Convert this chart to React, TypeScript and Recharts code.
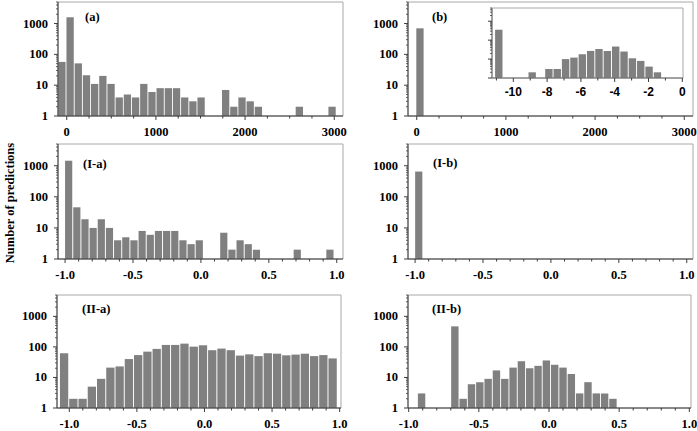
import React from "react";
import { BarChart, Bar, XAxis, YAxis, ReferenceArea } from "recharts";

const SERIF = '"Liberation Serif", "Times New Roman", serif';
const SANS = '"Liberation Sans", Arial, sans-serif';
const BAR_FILL = "#808080";
const AXIS_COLOR = "#3c3c3c";
const FRAME_COLOR = "#a8a8a8";

// log count axis, minor ticks included
const LOG_TICKS = [
  1, 2, 3, 4, 5, 6, 7, 8, 9, 10, 20, 30, 40, 50, 60, 70, 80, 90, 100, 200, 300, 400, 500, 600, 700, 800, 900,
  1000, 2000, 3000, 4000, 5000,
];
const LOG_LABELS = [1, 10, 100, 1000];
const Y_DOMAIN: [number, number] = [1, 5000];

const RANGE_TICKS = [0, 250, 500, 750, 1000, 1250, 1500, 1750, 2000, 2250, 2500, 2750, 3000];
const RANGE_LABELS = [0, 1000, 2000, 3000];
const CORR_TICKS = [-1, -0.9, -0.8, -0.7, -0.6, -0.5, -0.4, -0.3, -0.2, -0.1, 0, 0.1, 0.2, 0.3, 0.4, 0.5, 0.6, 0.7, 0.8, 0.9, 1];
const CORR_LABELS = [-1, -0.5, 0, 0.5, 1];
const INSET_TICKS = [-11, -10, -9, -8, -7, -6, -5, -4, -3, -2, -1, 0];
const INSET_LABELS = [-10, -8, -6, -4, -2, 0];

// (a)
const A_START = -49;
const A_WIDTH = 91.8;
const A_COUNTS = [
  57, 1600, 51, 21, 11, 20, 11, 4, 5, 4, 11, 6, 8, 8, 8, 4, 3, 4, null, null, 7, 2, 4, 3, 2, null, null, null, null, 2,
  null, null, null, 2,
];
// (b)
const B_START = 40;
const B_WIDTH = 91.8;
const B_COUNTS = [700];
// (b) inset
const INSET_START = -10.83;
const INSET_WIDTH = 0.494;
const INSET_COUNTS = [356, null, null, null, 2, null, 3, 3, 10, 12, 18, 27, 34, 27, 46, 25, 11, 8, 4, 2];
// (I-a)
const IA_START = -0.97;
const IA_WIDTH = 0.0601;
const IA_COUNTS = [
  1450, 46, 19, 10, 19, 10, 4, 5, 4, 8, 6, 8, 8, 8, 4, 3, 4, null, null, 7, 2, 4, 3, 2, null, null, null, null, 2, null,
  null, null, 2,
];
// (I-b)
const IB_START = -0.97;
const IB_WIDTH = 0.0601;
const IB_COUNTS = [650];
// (II-a)
const IIA_START = -1.035;
const IIA_WIDTH = 0.0685;
const IIA_COUNTS = [
  62, 2, 2, 5, 9, 21, 23, 40, 54, 70, 86, 116, 116, 128, 102, 113, 78, 88, 78, 52, 57, 50, 62, 60, 53, 56, 60, 50, 54, 42,
];
// (II-b)
const IIB_START = -0.905;
const IIB_WIDTH = 0.0593;
const IIB_COUNTS = [3, null, null, null, 470, 2, 6, 7, 9, 17, 9, 21, 34, 20, 24, 36, 26, 21, 13, 3, 7, 3, 3, 2];

function toBins(start: number, width: number, counts: (number | null)[]) {
  return counts.map((count, i) => ({ x: start + i * width, count }));
}

const isIn = (list: number[], v: number) => list.some((l) => Math.abs(l - v) < 1e-6);

const fmtInt = (v: number) => String(Math.round(v));
const fmtOne = (v: number) => (Math.abs(v) < 1e-9 ? "0.0" : v.toFixed(1));

function makeXTick(labels: number[], format: (v: number) => string, font: string, size: number, offset: number) {
  return (props: any) => {
    const { x, y, payload } = props;
    const major = isIn(labels, payload.value);
    return (
      <g>
        <line x1={x} x2={x} y1={y} y2={y + (major ? 4 : 2.5)} stroke={AXIS_COLOR} strokeWidth={1} />
        {major ? (
          <text
            x={x}
            y={y + offset}
            textAnchor="middle"
            dominantBaseline="central"
            fill="#000"
            style={{ fontFamily: font, fontWeight: 700, fontSize: size }}
          >
            {format(payload.value)}
          </text>
        ) : null}
      </g>
    );
  };
}

function makeYTick(showLabels: boolean) {
  return (props: any) => {
    const { x, y, payload } = props;
    const major = isIn(LOG_LABELS, payload.value);
    return (
      <g>
        <line x1={x - (major ? 4 : 2)} x2={x} y1={y} y2={y} stroke={AXIS_COLOR} strokeWidth={major ? 1 : 0.8} />
        {major && showLabels ? (
          <text
            x={x - 10}
            y={y}
            textAnchor="end"
            dominantBaseline="central"
            fill="#000"
            style={{ fontFamily: SERIF, fontWeight: 700, fontSize: 12.5 }}
          >
            {payload.value}
          </text>
        ) : null}
      </g>
    );
  };
}

type PanelProps = {
  left: number;
  top: number;
  width: number;
  height: number;
  marginTop: number;
  marginRight: number;
  yAxisWidth: number;
  xAxisHeight: number;
  data: { x: number; count: number | null }[];
  xDomain: [number, number];
  xTicks: number[];
  xLabels: number[];
  format: (v: number) => string;
  barSize: number;
  inset?: boolean;
};

function Panel(p: PanelProps) {
  const font = p.inset ? SANS : SERIF;
  const fontSize = p.inset ? 12 : 12.5;
  const offset = p.inset ? 14 : 16;
  return (
    <div style={{ position: "absolute", left: p.left, top: p.top, width: p.width, height: p.height }}>
      <BarChart
        width={p.width}
        height={p.height}
        data={p.data}
        margin={{ top: p.marginTop, right: p.marginRight, left: 0, bottom: 0 }}
      >
        <ReferenceArea y1={Y_DOMAIN[0]} y2={Y_DOMAIN[1]} fill={p.inset ? "#ffffff" : "none"} stroke={FRAME_COLOR} strokeWidth={1} />
        <XAxis
          dataKey="x"
          type="number"
          domain={p.xDomain}
          allowDataOverflow
          ticks={p.xTicks}
          interval={0}
          tickSize={0}
          tickMargin={0}
          tickLine={false}
          axisLine={{ stroke: p.inset ? "#707070" : AXIS_COLOR }}
          height={p.xAxisHeight}
          tick={makeXTick(p.xLabels, p.format, font, fontSize, offset)}
        />
        <YAxis
          type="number"
          scale="log"
          domain={Y_DOMAIN}
          allowDataOverflow
          ticks={LOG_TICKS}
          interval={0}
          tickSize={0}
          tickMargin={0}
          tickLine={false}
          axisLine={{ stroke: p.inset ? "#707070" : AXIS_COLOR }}
          width={p.yAxisWidth}
          tick={makeYTick(!p.inset)}
        />
        <Bar dataKey="count" fill={BAR_FILL} barSize={p.barSize} isAnimationActive={false} />
      </BarChart>
    </div>
  );
}

const labelStyle = (left: number, centerY: number): React.CSSProperties => ({
  position: "absolute",
  left,
  top: centerY - 8,
  lineHeight: "16px",
  fontFamily: SERIF,
  fontWeight: 700,
  fontSize: 12.5,
  color: "#000",
  whiteSpace: "nowrap",
});

export default function App() {
  return (
    <div style={{ position: "absolute", left: 0, top: 0, width: 697, height: 431, background: "#fff", overflow: "hidden" }}>
      <svg style={{ position: "absolute", left: 0, top: 0 }} width={22} height={431}>
        <text
          transform="translate(10,203) rotate(-90)"
          textAnchor="middle"
          dominantBaseline="central"
          fill="#000"
          style={{ fontFamily: SERIF, fontWeight: 700, fontSize: 12.5 }}
        >
          Number of predictions
        </text>
      </svg>

      <Panel
        left={0}
        top={0}
        width={350}
        height={140}
        marginTop={2}
        marginRight={7}
        yAxisWidth={58}
        xAxisHeight={24}
        data={toBins(A_START, A_WIDTH, A_COUNTS)}
        xDomain={[-98, 3098]}
        xTicks={RANGE_TICKS}
        xLabels={RANGE_LABELS}
        format={fmtInt}
        barSize={7.3}
      />
      <Panel
        left={350}
        top={0}
        width={350}
        height={140}
        marginTop={2}
        marginRight={7}
        yAxisWidth={58}
        xAxisHeight={24}
        data={toBins(B_START, B_WIDTH, B_COUNTS)}
        xDomain={[-98, 3098]}
        xTicks={RANGE_TICKS}
        xLabels={RANGE_LABELS}
        format={fmtInt}
        barSize={7.3}
      />
      <Panel
        left={480}
        top={0}
        width={210}
        height={100}
        marginTop={8}
        marginRight={7}
        yAxisWidth={12}
        xAxisHeight={22}
        data={toBins(INSET_START, INSET_WIDTH, INSET_COUNTS)}
        xDomain={[-11.26, 0.04]}
        xTicks={INSET_TICKS}
        xLabels={INSET_LABELS}
        format={fmtInt}
        barSize={7.4}
        inset
      />
      <Panel
        left={0}
        top={142}
        width={350}
        height={141}
        marginTop={2}
        marginRight={7}
        yAxisWidth={58}
        xAxisHeight={24}
        data={toBins(IA_START, IA_WIDTH, IA_COUNTS)}
        xDomain={[-1.052, 1.046]}
        xTicks={CORR_TICKS}
        xLabels={CORR_LABELS}
        format={fmtOne}
        barSize={7.2}
      />
      <Panel
        left={350}
        top={142}
        width={350}
        height={141}
        marginTop={2}
        marginRight={7}
        yAxisWidth={58}
        xAxisHeight={24}
        data={toBins(IB_START, IB_WIDTH, IB_COUNTS)}
        xDomain={[-1.052, 1.046]}
        xTicks={CORR_TICKS}
        xLabels={CORR_LABELS}
        format={fmtOne}
        barSize={7.2}
      />
      <Panel
        left={0}
        top={293}
        width={350}
        height={138}
        marginTop={2}
        marginRight={9}
        yAxisWidth={57}
        xAxisHeight={23}
        data={toBins(IIA_START, IIA_WIDTH, IIA_COUNTS)}
        xDomain={[-1.091, 1.01]}
        xTicks={CORR_TICKS}
        xLabels={CORR_LABELS}
        format={fmtOne}
        barSize={8.3}
      />
      <Panel
        left={350}
        top={293}
        width={350}
        height={138}
        marginTop={2}
        marginRight={9}
        yAxisWidth={58}
        xAxisHeight={23}
        data={toBins(IIB_START, IIB_WIDTH, IIB_COUNTS)}
        xDomain={[-1.005, 1.012]}
        xTicks={CORR_TICKS}
        xLabels={CORR_LABELS}
        format={fmtOne}
        barSize={7.4}
      />

      <div style={labelStyle(85, 17)}>(a)</div>
      <div style={labelStyle(432, 17)}>(b)</div>
      <div style={labelStyle(83, 164)}>(I-a)</div>
      <div style={labelStyle(433, 163)}>(I-b)</div>
      <div style={labelStyle(82, 309)}>(II-a)</div>
      <div style={labelStyle(432, 309)}>(II-b)</div>
    </div>
  );
}
